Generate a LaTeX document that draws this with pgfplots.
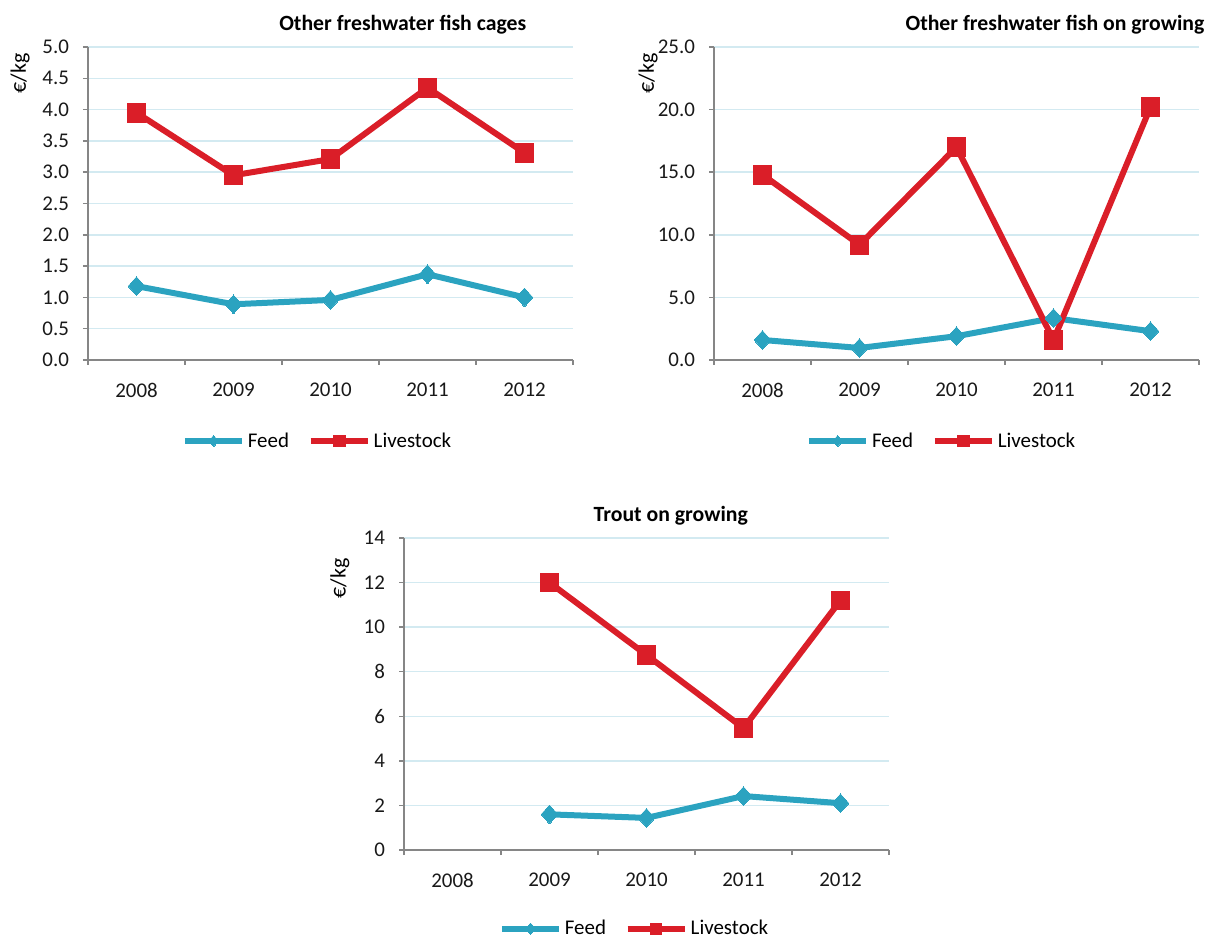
\documentclass[border=0pt]{standalone}
\usepackage{fontspec}
\setmainfont{Carlito}
\usepackage{pgfplots}
\pgfplotsset{compat=1.18}
\definecolor{feedc}{HTML}{2BA3C0}
\definecolor{livec}{HTML}{DA1E28}
\definecolor{gridc}{HTML}{D3EAF1}
\definecolor{axc}{HTML}{868686}
\newcommand{\lblfont}{\fontsize{15.7}{18}\selectfont}
\pgfplotsset{
 every axis title shift=0pt,
 panel/.style={
  scale only axis, width=363.75pt, height=234.75pt,
  xmin=-0.5, xmax=4.5, ymin=0,
  axis x line*=bottom, axis y line*=left,
  axis line style={draw=axc, line width=1.3pt},
  xtick={0,1,2,3,4}, xticklabels={2008,2009,2010,2011,2012},
  minor xtick={-0.5,0.5,1.5,2.5,3.5,4.5},
  major x tick style={draw=none},
  minor tick length=3.75pt, major tick length=3.75pt,
  tick align=outside,
  tick style={draw=axc, line width=1.1pt},
  ymajorgrids, major grid style={draw=gridc, line width=1.1pt},
  tick label style={font=\lblfont, text=black!90},
  xticklabel style={yshift=-10pt},
  yticklabel style={xshift=-7pt},
  /pgf/number format/assume math mode=true,
  clip=false,
  title style={font=\fontsize{16.3}{19}\selectfont\bfseries, anchor=center},
  ylabel={€/kg},
  ylabel style={font=\fontsize{16.5}{19}\selectfont, anchor=center},
  legend columns=2,
  legend style={draw=none, fill=none, font=\lblfont, anchor=center,
    nodes={inner xsep=2pt},
    /tikz/every even column/.append style={column sep=12pt}},
  legend cell align=left,
  legend image code/.code={\draw[mark repeat=2,mark phase=2,##1,mark size=4.2pt] plot coordinates {(0pt,0pt) (21.5pt,0pt) (43pt,0pt)};},
 },
 feed/.style={color=feedc, line width=4.5pt, mark=diamond*, mark size=7pt, mark options={solid, line width=0pt, xscale=1.2}},
 live/.style={color=livec, line width=4.5pt, mark=square*, mark size=7pt, mark options={solid, line width=0pt}},
}
\begin{document}
\begin{tikzpicture}
\useasboundingbox (0,0) rectangle (908.25pt,705pt);
% Panel 1
\begin{axis}[panel, at={(66pt,435pt)}, anchor=south west,
  ymax=5, ytick={0,0.5,...,5},
  yticklabel style={/pgf/number format/.cd, fixed, fixed zerofill, precision=1},
  title={Other freshwater fish cages},
  title style={at={(axis description cs:0.649,1.07)}},
  ylabel style={at={(axis description cs:-0.14,0.915)}},
  legend style={at={(axis description cs:0.474,-0.259)}}]
\addplot[feed] coordinates {(0,1.18) (1,0.89) (2,0.96) (3,1.37) (4,1.00)};
\addlegendentry{Feed}
\addplot[live] coordinates {(0,3.95) (1,2.95) (2,3.21) (3,4.35) (4,3.31)};
\addlegendentry{Livestock}
\end{axis}
% Panel 2
\begin{axis}[panel, at={(535.5pt,435pt)}, anchor=south west,
  ymax=25, ytick={0,5,...,25},
  yticklabel style={/pgf/number format/.cd, fixed, fixed zerofill, precision=1},
  title={Other freshwater fish on growing},
  title style={at={(axis description cs:0.703,1.07)}},
  ylabel style={at={(axis description cs:-0.136,0.915)}},
  legend style={at={(axis description cs:0.47,-0.259)}}]
\addplot[feed] coordinates {(0,1.6) (1,0.96) (2,1.9) (3,3.35) (4,2.3)};
\addlegendentry{Feed}
\addplot[live] coordinates {(0,14.8) (1,9.2) (2,17.0) (3,1.6) (4,20.2)};
\addlegendentry{Livestock}
\end{axis}
% Panel 3
\begin{axis}[panel, at={(303pt,67.5pt)}, anchor=south west, height=234pt,
  ymax=14, ytick={0,2,...,14},
  title={Trout on growing},
  title style={at={(axis description cs:0.55,1.07)}},
  ylabel style={at={(axis description cs:-0.132,0.87)}},
  legend style={at={(axis description cs:0.476,-0.252)}}]
\addplot[feed] coordinates {(1,1.6) (2,1.44) (3,2.42) (4,2.1)};
\addlegendentry{Feed}
\addplot[live] coordinates {(1,12.0) (2,8.75) (3,5.47) (4,11.2)};
\addlegendentry{Livestock}
\end{axis}
\end{tikzpicture}
\end{document}
